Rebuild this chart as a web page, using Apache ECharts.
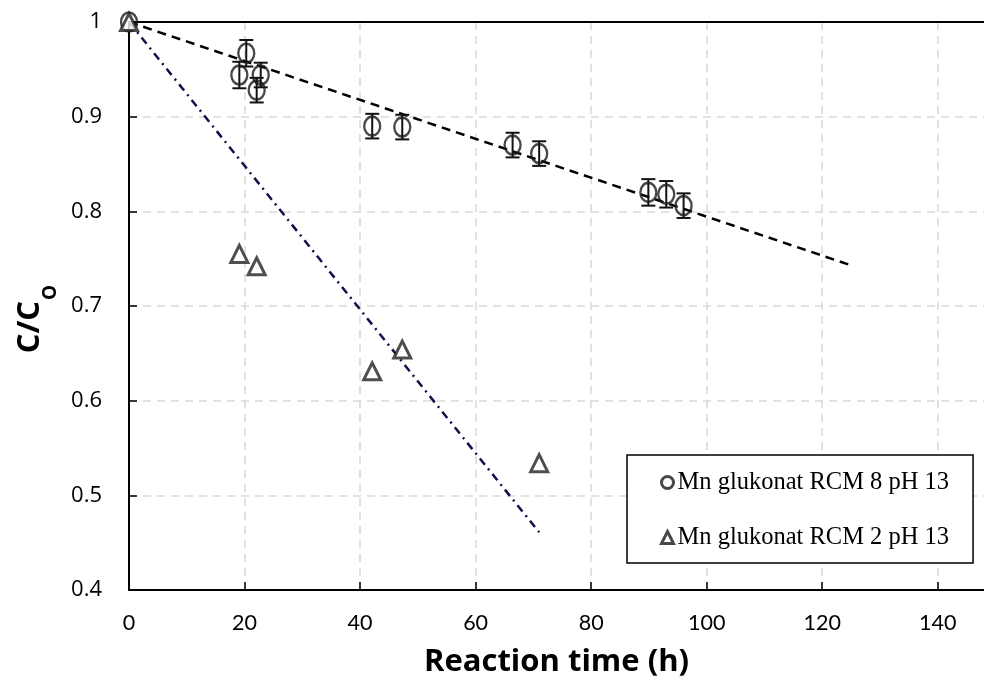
<!DOCTYPE html>
<html>
<head>
<meta charset="utf-8">
<script src="https://cdn.jsdelivr.net/npm/echarts@6/dist/echarts.min.js"></script>
<style>
html,body{margin:0;padding:0;background:#fff;}
#chart{width:984px;height:691px;}
</style>
</head>
<body>
<div id="chart"></div>
<script>
// Series 1: Mn glukonat RCM 8 pH 13 (circles, with error bars)
var rcm8Time = [0, 19.1, 20.3, 22.1, 22.8, 42.1, 47.3, 66.4, 71.0, 89.9, 93.0, 96.0];
var rcm8Value = [1.0, 0.944, 0.967, 0.928, 0.944, 0.890, 0.889, 0.870, 0.861, 0.820, 0.818, 0.806];
var rcm8Error = [0, 0.014, 0.014, 0.013, 0.013, 0.013, 0.013, 0.013, 0.013, 0.014, 0.014, 0.013];
// Series 2: Mn glukonat RCM 2 pH 13 (triangles)
var rcm2Time = [0, 19.1, 22.1, 42.1, 47.3, 71.0];
var rcm2Value = [1.0, 0.755, 0.742, 0.631, 0.654, 0.534];
// Trend lines
var trend8Time = [0, 124.5];
var trend8Value = [1.0, 0.744];
var trend2Time = [0, 71.0];
var trend2Value = [1.0, 0.461];
// Axis ticks
var xTicks = [0, 20, 40, 60, 80, 100, 120, 140];
var yTicks = [0.4, 0.5, 0.6, 0.7, 0.8, 0.9, 1.0];
var seriesNames = ['Mn glukonat RCM 8 pH 13', 'Mn glukonat RCM 2 pH 13'];

function zip(a, b, c) {
  return a.map(function (v, i) { return c ? [v, b[i], c[i]] : [v, b[i]]; });
}

var chart = echarts.init(document.getElementById('chart'), null, {renderer: 'canvas'});
var option = {
  backgroundColor: '#ffffff',
  animation: false,
  grid: {left: 129, top: 22, right: 0, bottom: 101, containLabel: false},
  xAxis: [{
    type: 'value', min: 0, max: 148, interval: 20,
    name: 'Reaction time (h)', nameLocation: 'middle', nameGap: 57,
    nameTextStyle: {fontFamily: 'Open Sans', fontWeight: 'bold', fontSize: 31, color: '#000'},
    axisLine: {show: true, lineStyle: {color: '#000', width: 2}},
    axisTick: {show: true, inside: true, length: 8, lineStyle: {color: '#000', width: 1.5}},
    axisLabel: {margin: 22, fontFamily: 'Lato', fontSize: 21.5, color: '#000', showMaxLabel: false,
      formatter: function (v) { return xTicks.indexOf(v) >= 0 ? String(v) : ''; }},
    splitLine: {show: true, showMaxLine: false, lineStyle: {color: '#d9d9d9', type: [8, 6], width: 1.5}}
  }, {
    type: 'value', position: 'top', min: 0, max: 148,
    axisLine: {show: true, onZero: false, lineStyle: {color: '#000', width: 2}},
    axisTick: {show: false}, axisLabel: {show: false}, splitLine: {show: false}
  }],
  yAxis: {
    type: 'value', min: 0.4, max: 1.0, interval: 0.1,
    name: '{a|C/C}{b|O}', nameLocation: 'middle', nameGap: 76, nameRotate: 90,
    nameTextStyle: {padding: [0, 26, 0, 0], rich: {
      a: {fontFamily: 'Open Sans', fontWeight: 'bold', fontSize: 31, color: '#000', lineHeight: 34, verticalAlign: 'top'},
      b: {fontFamily: 'Open Sans', fontWeight: 'bold', fontSize: 19, color: '#000', lineHeight: 20, verticalAlign: 'top', padding: [26, 0, 0, 1]}
    }},
    axisLine: {show: true, lineStyle: {color: '#000', width: 2}},
    axisTick: {show: true, inside: true, length: 8, lineStyle: {color: '#000', width: 1.5}},
    axisLabel: {margin: 27, fontFamily: 'Open Sans', fontSize: 22, color: '#000',
      formatter: function (v) {
        var r = Math.round(v * 10) / 10;
        for (var i = 0; i < yTicks.length; i++) { if (Math.abs(yTicks[i] - r) < 1e-9) return r === 1 ? '1' : r.toFixed(1); }
        return '';
      }},
    splitLine: {show: true, lineStyle: {color: '#d9d9d9', type: [8, 6], width: 1.5}}
  },
  legend: {
    orient: 'vertical', left: 627, top: 455,
    data: [
      {name: seriesNames[0], icon: 'circle', itemStyle: {color: '#fff', borderColor: '#1a1a1a', borderWidth: 3}},
      {name: seriesNames[1], icon: 'triangle', itemStyle: {color: '#fff', borderColor: '#1a1a1a', borderWidth: 3}}
    ],
    backgroundColor: '#fff', borderColor: '#000', borderWidth: 1.5,
    padding: [15, 24, 13, 33], itemGap: 30, itemWidth: 12, itemHeight: 12,
    textStyle: {fontFamily: 'Liberation Serif', fontSize: 24.5, color: '#000', padding: [0, 0, 0, -1]}
  },
  series: [
    {
      name: 'trend8', type: 'line', data: zip(trend8Time, trend8Value), symbol: 'none', silent: true,
      lineStyle: {color: '#000', width: 2.5, type: [9, 6]}, z: 2
    },
    {
      name: 'trend2', type: 'line', data: zip(trend2Time, trend2Value), symbol: 'none', silent: true,
      lineStyle: {color: '#10104a', width: 2.5, type: [8, 5, 2, 5]}, z: 2
    },
    {
      name: 'err8', type: 'custom', data: zip(rcm8Time, rcm8Value, rcm8Error), z: 3, clip: false,
      renderItem: function (params, api) {
        var x = api.value(0), y = api.value(1), e = api.value(2);
        if (!e) return null;
        var top = api.coord([x, y + e]), bot = api.coord([x, y - e]);
        var hw = 7;
        var style = {stroke: '#111', lineWidth: 2};
        return {type: 'group', children: [
          {type: 'line', shape: {x1: top[0], y1: top[1], x2: bot[0], y2: bot[1]}, style: style},
          {type: 'line', shape: {x1: top[0] - hw, y1: top[1], x2: top[0] + hw, y2: top[1]}, style: style},
          {type: 'line', shape: {x1: bot[0] - hw, y1: bot[1], x2: bot[0] + hw, y2: bot[1]}, style: style}
        ]};
      }
    },
    {
      name: seriesNames[0], type: 'scatter', data: zip(rcm8Time, rcm8Value), clip: false,
      symbol: 'circle', symbolSize: [16, 19], z: 4,
      itemStyle: {color: 'rgba(255,255,255,0)', borderColor: '#1a1a1a', borderWidth: 2.5}
    },
    {
      name: seriesNames[1], type: 'scatter', data: zip(rcm2Time, rcm2Value), clip: false,
      symbol: 'triangle', symbolSize: [17, 17], z: 4,
      itemStyle: {color: '#fff', borderColor: '#222', borderWidth: 3}
    }
  ]
};
chart.setOption(option);
</script>
</body>
</html>
